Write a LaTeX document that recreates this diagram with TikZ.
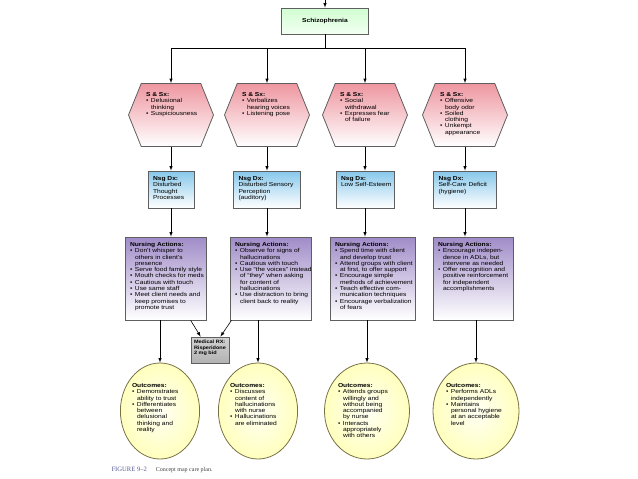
\documentclass[tikz,border=0pt]{standalone}
\usepackage{fontspec}
\setmainfont{Liberation Serif}
\setsansfont{Liberation Sans}[FakeStretch=1.15]
\usetikzlibrary{shapes.geometric,shapes.symbols}

\definecolor{hexpink}{RGB}{238,150,160}
\definecolor{dxblue}{RGB}{135,200,235}
\definecolor{napurple}{RGB}{160,140,200}
\definecolor{outyellow}{RGB}{240,225,110}
\definecolor{outedge}{RGB}{120,112,70}
\definecolor{edgegray}{RGB}{95,95,95}
\definecolor{capblue}{RGB}{85,90,150}

\pgfdeclareradialshading{outshade}{\pgfpoint{0bp}{0bp}}{color(0bp)=(yellow!4); color(30bp)=(yellow!30); color(50bp)=(outyellow)}

\newcommand{\mapfont}{\sffamily\fontsize{5.8}{6.3}\selectfont}
\newcommand{\bu}{\makebox[5pt][l]{\textbullet}}
\newcommand{\bc}{\hspace*{5pt}}
% text block of a box: width, height, lines
\newcommand{\maptext}[3]{\parbox[c][#2][t]{#1}{\begin{tabular}[t]{@{}l@{}}#3\end{tabular}}}

\begin{document}
\begin{tikzpicture}[x=1pt,y=-1pt,font=\mapfont,
  box/.style={draw=edgegray, line width=0.8pt, inner xsep=5pt, inner ysep=5pt},
  schbox/.style={box, top color=green!18!white, bottom color=green!5!white, minimum width=87pt, minimum height=26pt},
  hexbox/.style={draw=edgegray, line width=0.8pt, shape=signal, signal to=east and west, signal pointer angle=136,
    top color=hexpink, bottom color=white, inner sep=2pt, minimum width=85pt, minimum height=63pt},
  dxbox/.style={box, top color=dxblue, bottom color=white},
  nabox/.style={box, top color=napurple, bottom color=white},
  rxbox/.style={box, top color=gray!35, bottom color=gray!60, inner xsep=3pt, inner ysep=3pt, font=\sffamily\fontsize{4.8}{5.4}\selectfont},
  outbox/.style={shape=ellipse, draw=outedge, line width=0.8pt, shading=outshade, minimum width=78pt, minimum height=96pt, inner sep=0pt},
  conn/.style={line width=0.6pt},
  arr/.style={conn, -latex}]
\useasboundingbox (0,0) rectangle (638,479);

% top of the map
\coordinate (top) at (325,0);
\node[schbox] (sch) at (325,21) {\textbf{Schizophrenia}};
\coordinate (bus) at (325,48);

% signs and symptoms
\node[hexbox] (h1) at (171,115) {\maptext{50pt}{46pt}{\textbf{S \& Sx:}\\ \bu Delusional\\ \bc thinking\\ \bu Suspiciousness}};
\node[hexbox] (h2) at (267,115) {\maptext{50pt}{46pt}{\textbf{S \& Sx:}\\ \bu Verbalizes\\ \bc hearing voices\\ \bu Listening pose}};
\node[hexbox] (h3) at (365,115) {\maptext{50pt}{46pt}{\textbf{S \& Sx:}\\ \bu Social\\ \bc withdrawal\\ \bu Expresses fear\\ \bc of failure}};
\node[hexbox] (h4) at (465,115) {\maptext{50pt}{46pt}{\textbf{S \& Sx:}\\ \bu Offensive\\ \bc body odor\\ \bu Soiled\\ \bc clothing\\ \bu Unkempt\\ \bc appearance}};

% nursing diagnoses
\node[dxbox] (d1) at (171,189.5) {\maptext{36pt}{27pt}{\textbf{Nsg Dx:}\\ Disturbed\\ Thought\\ Processes}};
\node[dxbox] (d2) at (267,189.5) {\maptext{57pt}{27pt}{\textbf{Nsg Dx:}\\ Disturbed Sensory\\ Perception\\ (auditory)}};
\node[dxbox] (d3) at (365,189.5) {\maptext{48pt}{27pt}{\textbf{Nsg Dx:}\\ Low Self-Esteem}};
\node[dxbox] (d4) at (465,189.5) {\maptext{53pt}{27pt}{\textbf{Nsg Dx:}\\ Self-Care Deficit\\ (hygiene)}};

% nursing actions
\node[nabox] (n1) at (165.5,278.5) {\maptext{71pt}{73pt}{\textbf{Nursing Actions:}\\ \bu Don’t whisper to\\ \bc others in client’s\\ \bc presence\\ \bu Serve food family style\\ \bu Mouth checks for meds\\ \bu Cautious with touch\\ \bu Use same staff\\ \bu Meet client needs and\\ \bc keep promises to\\ \bc promote trust}};
\node[nabox] (n2) at (270.5,278.5) {\maptext{71pt}{73pt}{\textbf{Nursing Actions:}\\ \bu Observe for signs of\\ \bc hallucinations\\ \bu Cautious with touch\\ \bu Use “the voices” instead\\ \bc of “they” when asking\\ \bc for content of\\ \bc hallucinations\\ \bu Use distraction to bring\\ \bc client back to reality}};
\node[nabox] (n3) at (372.5,278.5) {\maptext{75pt}{73pt}{\textbf{Nursing Actions:}\\ \bu Spend time with client\\ \bc and develop trust\\ \bu Attend groups with client\\ \bc at first, to offer support\\ \bu Encourage simple\\ \bc methods of achievement\\ \bu Teach effective com-\\ \bc munication techniques\\ \bu Encourage verbalization\\ \bc of fears}};
\node[nabox] (n4) at (473,278.5) {\maptext{70pt}{73pt}{\textbf{Nursing Actions:}\\ \bu Encourage indepen-\\ \bc dence in ADLs, but\\ \bc intervene as needed\\ \bu Offer recognition and\\ \bc positive reinforcement\\ \bc for independent\\ \bc accomplishments}};

% medication
\node[rxbox] (rx) at (210,350) {\maptext{32pt}{20pt}{\textbf{Medical RX:}\\ \textbf{Risperidone}\\ \textbf{2 mg bid}}};

% outcomes
\node[outbox] (o1) at (160,411) {\maptext{56pt}{56pt}{\textbf{Outcomes:}\\ \bu Demonstrates\\ \bc ability to trust\\ \bu Differentiates\\ \bc between\\ \bc delusional\\ \bc thinking and\\ \bc reality}};
\node[outbox] (o2) at (258,411) {\maptext{56pt}{56pt}{\textbf{Outcomes:}\\ \bu Discusses\\ \bc content of\\ \bc hallucinations\\ \bc with nurse\\ \bu Hallucinations\\ \bc are eliminated}};
\node[outbox, minimum width=85pt] (o3) at (367,411) {\maptext{58pt}{56pt}{\textbf{Outcomes:}\\ \bu Attends groups\\ \bc willingly and\\ \bc without being\\ \bc accompanied\\ \bc by nurse\\ \bu Interacts\\ \bc appropriately\\ \bc with others}};
\node[outbox, minimum width=86pt] (o4) at (476,411) {\maptext{60pt}{56pt}{\textbf{Outcomes:}\\ \bu Performs ADLs\\ \bc independently\\ \bu Maintains\\ \bc personal hygiene\\ \bc at an acceptable\\ \bc level}};

% connectors
\draw[arr] (top) -- (sch.north);
\draw[conn] (sch.south) -- (bus);
\draw[conn] (h1.north |- bus) -- (h4.north |- bus);
\foreach \i in {1,...,4} {
  \draw[arr] (h\i.north |- bus) -- (h\i.north);
  \draw[arr] (h\i.south) -- (d\i.north);
  \draw[arr] (d\i.south) -- (d\i.south |- n\i.north);
  \draw[arr] (o\i.north |- n\i.south) -- (o\i.north);
}
\draw[arr] (n1.-59) -- (rx.125);
\draw[arr] (n2.-133) -- (rx.52);

% caption
\node[anchor=west, font=\rmfamily\fontsize{6}{7}\selectfont, text=black!75] (cap) at (108,470)
  {\textcolor{capblue}{\fontsize{6.6}{7}\selectfont FIGURE 9–2}\hspace{9pt}Concept map care plan.};
\end{tikzpicture}
\end{document}
